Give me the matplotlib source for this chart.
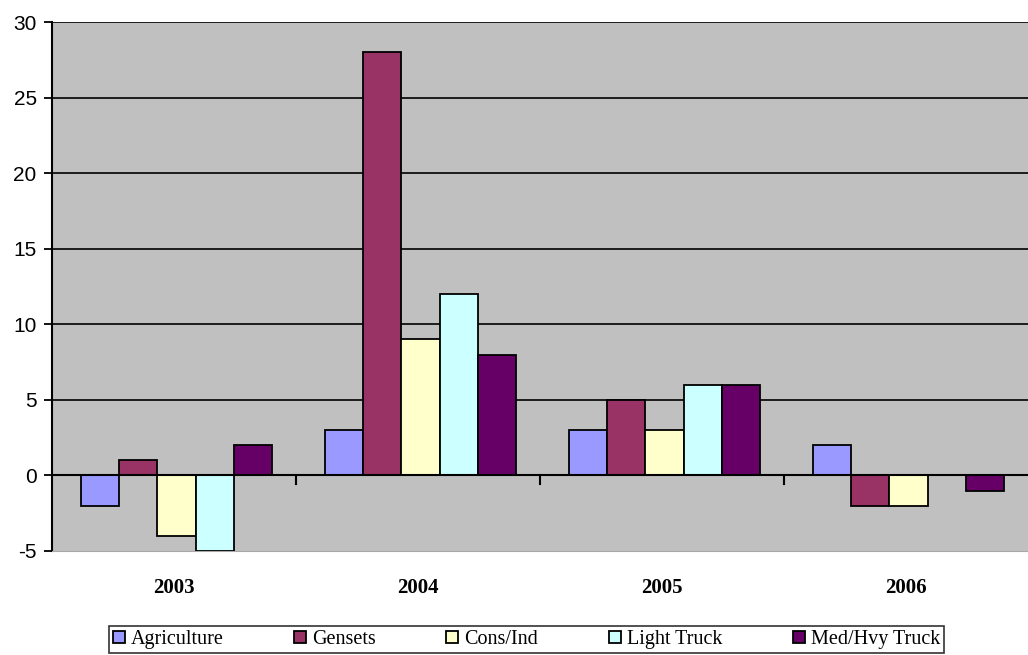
import matplotlib.pyplot as plt
import numpy as np

years = ['2003', '2004', '2005', '2006']
series = ['Agriculture', 'Gensets', 'Cons/Ind', 'Light Truck', 'Med/Hvy Truck']
agriculture = [-2, 3, 3, 2]
gensets = [1, 28, 5, -2]
cons_ind = [-4, 9, 3, -2]
light_truck = [-5, 12, 6, 0]
med_hvy_truck = [2, 8, 6, -1]
colors = ['#9999FF', '#993366', '#FFFFCC', '#CCFFFF', '#660066']

values = [agriculture, gensets, cons_ind, light_truck, med_hvy_truck]

plt.rcParams['axes.unicode_minus'] = False

fig = plt.figure(figsize=(10.28, 6.55), dpi=100)
ax = fig.add_axes([52 / 1028, 1 - 551 / 655, 1 - 52 / 1028, (551 - 22) / 655])
ax.set_facecolor('#C0C0C0')

x = np.arange(len(years))
w = 0.157
for i, (name, vals) in enumerate(zip(series, values)):
    ax.bar(x + (i - 2) * w + 0.01, vals, w, color=colors[i], edgecolor='black',
           linewidth=1.3, label=name, zorder=3)

ax.set_xlim(-0.5, 3.5)
ax.set_ylim(-5, 30)
ax.set_yticks(range(-5, 31, 5))
for g in range(5, 31, 5):
    ax.axhline(g, color='black', linewidth=1.2, zorder=1)
ax.axhline(0, color='black', linewidth=1.5, zorder=4)

for s in ['top', 'right']:
    ax.spines[s].set_visible(False)
ax.spines['bottom'].set_color('#A8A8A8')
ax.spines['left'].set_linewidth(1.5)
ax.tick_params(axis='y', direction='out', length=6, width=1.3, pad=5,
               labelsize=15, colors='black')
for lab in ax.get_yticklabels():
    lab.set_family('Liberation Sans')

ax.set_xticks([0.5, 1.5, 2.5])
ax.set_xticklabels([])
ax.tick_params(axis='x', length=0)
for b in [0.5, 1.5, 2.5]:
    ax.plot([b, b], [0, -0.6], color='black', linewidth=1.5, zorder=4, clip_on=False)

for i, yr in enumerate(years):
    ax.text(i, -0.07, yr, transform=ax.get_xaxis_transform(), ha='center',
            va='center', fontsize=15, fontweight='bold', family='Liberation Serif')

leg = fig.legend(loc='upper center', bbox_to_anchor=(0.512, 1 - 620 / 655), ncol=5,
                 frameon=True, fancybox=False, edgecolor='black',
                 prop={'family': 'Liberation Serif', 'size': 14.5},
                 handlelength=0.6, handleheight=0.6, handletextpad=0.3,
                 columnspacing=3.5, borderpad=0.2, borderaxespad=0.3)
leg.get_frame().set_linewidth(1.2)

fig.savefig('out.png', dpi=100)
